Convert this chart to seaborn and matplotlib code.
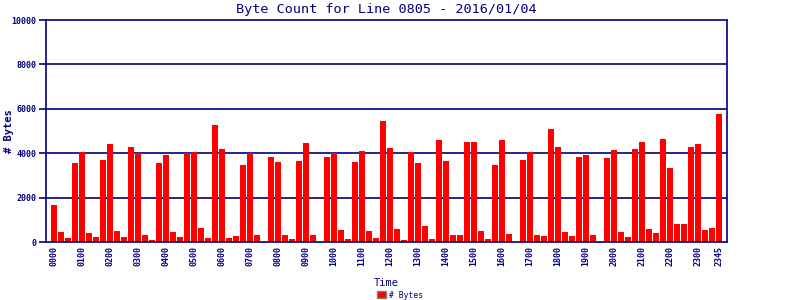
import matplotlib
matplotlib.use("Agg")
import matplotlib.pyplot as plt
import seaborn as sns
import pandas as pd
from matplotlib.patches import Patch

times = [f"{h:02d}{m:02d}" for h in range(24) for m in (0, 15, 30, 45)]
byte_counts = [
    1680, 466, 195, 3579, 4075, 421, 240, 3714,
    4436, 511, 240, 4300, 4000, 330, 105, 3579,
    3940, 466, 240, 4030, 4075, 647, 195, 5248,
    4210, 195, 286, 3489, 4030, 330, 0, 3850,
    3624, 330, 150, 3669, 4481, 330, 0, 3850,
    4030, 556, 150, 3624, 4120, 511, 195, 5429,
    4256, 601, 105, 4075, 3579, 737, 150, 4617,
    3669, 330, 330, 4526, 4526, 511, 150, 3489,
    4617, 376, 0, 3714, 4075, 330, 286, 5068,
    4300, 466, 286, 3850, 3940, 330, 0, 3805,
    4165, 466, 240, 4210, 4526, 601, 421, 4662,
    3353, 827, 827, 4300, 4436, 556, 647, 5744,
]
tick_labels = [t for i, t in enumerate(times) if i % 4 == 0] + ["2345"]
y_ticks = [0, 2000, 4000, 6000, 8000, 10000]
title = "Byte Count for Line 0805 - 2016/01/04"

navy = "#000080"
df = pd.DataFrame({"Time": times, "Bytes": byte_counts})

sns.set_style("white")
plt.rcParams["font.family"] = ["DejaVu Sans Mono"]

fig = plt.figure(figsize=(8, 3), dpi=100)
ax = fig.add_axes([46 / 800, 1 - 242 / 300, 681 / 800, 222 / 300])
ax.set_axisbelow(True)
for v in y_ticks[1:-1]:
    ax.axhline(v, color=navy, lw=1.2, zorder=0.5)
sns.barplot(data=df, x="Time", y="Bytes", color="#ff0000", saturation=1,
            width=0.86, ax=ax, linewidth=0, edgecolor="none")
for p in ax.patches:
    p.set_zorder(3)
ax.set_xlim(-1.14, 96.14)
ax.set_ylim(0, 10000)

ax.set_yticks(y_ticks)
ax.set_yticklabels([str(v) for v in y_ticks], fontsize=6, color=navy,
                   fontweight="bold")
tick_pos = [i for i in range(96) if i % 4 == 0] + [95]
ax.set_xticks(tick_pos)
ax.set_xticklabels(tick_labels, rotation=90, fontsize=6, color=navy,
                   fontweight="bold")
ax.tick_params(axis="y", length=5, width=1.2, color=navy, pad=2, direction="out", left=True)
ax.tick_params(axis="x", length=0, pad=3)

for s in ax.spines.values():
    s.set_color(navy)
    s.set_linewidth(1.2)
    s.set_zorder(4)

ax.set_title(title, fontsize=9.7, color=navy, pad=5)
ax.set_ylabel("# Bytes", fontsize=7.5, color=navy, fontweight="bold")
ax.yaxis.set_label_coords(-0.047, 0.5)
ax.set_xlabel("Time", fontsize=7.5, color=navy)
ax.xaxis.set_label_coords(0.5, -0.16)

handle = Patch(facecolor="#ff0000", edgecolor="#808080", linewidth=1)
leg = fig.legend([handle], ["# Bytes"], loc="center",
                 bbox_to_anchor=(0.5, 1 - 295 / 300),
                 frameon=False, fontsize=5.8, labelcolor=navy, handlelength=1.1,
                 handleheight=0.9, handletextpad=0.4, borderpad=0)

fig.savefig("out.png", dpi=100)
